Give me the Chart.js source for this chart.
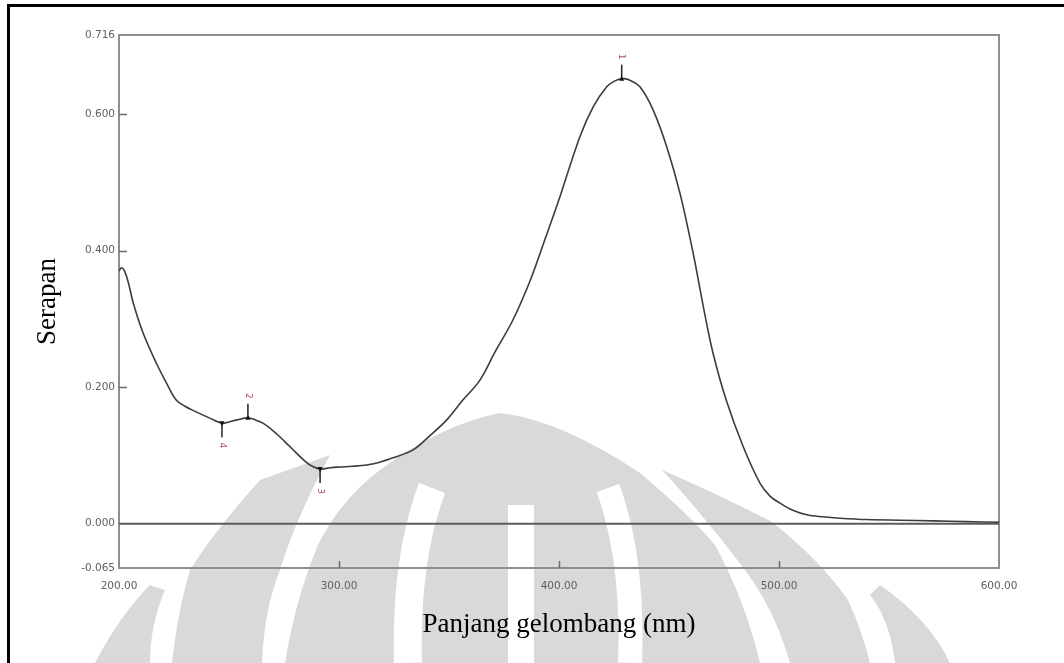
<!DOCTYPE html>
<html>
<head>
<meta charset="utf-8">
<script src="https://cdn.jsdelivr.net/npm/chart.js@4.4.1/dist/chart.umd.min.js"></script>
<style>
  html, body { margin: 0; padding: 0; background: #fff; }
  #wrap { position: relative; width: 1064px; height: 663px; overflow: hidden; background: #fff; }
  #frame { position: absolute; left: 7px; top: 4px; width: 1070px; height: 670px;
           border-top: 3px solid #000; border-left: 3px solid #000; pointer-events: none; }
  #wm { position: absolute; left: 0; top: 0; }
  canvas { position: absolute; left: 0; top: 0; }
</style>
</head>
<body>
<div id="wrap">
  <svg id="wm" width="1064" height="663" viewBox="0 0 1064 663">
    <g fill="#d9d9d9">
      <path d="M500,413 Q560,420 640,473 Q690,515 715,545 Q745,600 760,663 L285,663 Q295,600 318,545 Q340,500 380,470 Q440,425 500,413 Z"/>
      <path d="M330,455 L260,480 Q215,530 190,570 Q178,610 172,663 L262,663 Q264,610 280,570 Q295,520 330,455 Z"/>
      <path d="M662,470 Q720,495 772,522 Q820,560 848,600 Q862,630 870,663 L790,663 Q775,610 745,570 Q715,530 680,490 Z"/>
      <path d="M150,585 L165,590 Q150,625 150,663 L95,663 Q120,615 150,585 Z"/>
      <path d="M880,585 Q930,620 950,663 L895,663 Q890,620 870,595 Z"/>
    </g>
    <g fill="none" stroke="#ffffff">
      <path d="M432,488 Q405,560 408,663" stroke-width="28"/>
      <path d="M608,488 Q634,560 630,663" stroke-width="24"/>
      <path d="M521,505 L521,663" stroke-width="26"/>
    </g>
  </svg>
  <canvas id="c" width="1064" height="663"></canvas>
  <div id="frame"></div>
</div>
<script>
// ---- data ----
const wavelength = [200, 201.2, 202.7, 204.5, 206.5, 211, 217, 221.6, 226, 230, 233.6, 241, 246.8, 250, 253.5, 258.6, 262, 265.6, 269, 273.2, 277, 280.8, 284, 286.8, 291.4, 296, 300.5, 306, 312.6, 318.6, 325, 333.7, 341, 349, 356, 364, 371, 379, 387, 394, 400, 409.5, 415.6, 421.7, 425, 428.5, 432, 436.8, 442.8, 449, 455, 461, 465.6, 470, 476, 483.7, 491.4, 496, 500.5, 506, 512.6, 520, 527.7, 540, 555, 570, 585, 600];
const absorbance = [0.370, 0.375, 0.369, 0.350, 0.323, 0.279, 0.235, 0.206, 0.181, 0.172, 0.166, 0.155, 0.147, 0.149, 0.152, 0.155, 0.152, 0.147, 0.139, 0.127, 0.115, 0.103, 0.093, 0.086, 0.080, 0.082, 0.083, 0.084, 0.086, 0.090, 0.097, 0.108, 0.128, 0.152, 0.180, 0.210, 0.252, 0.298, 0.357, 0.420, 0.475, 0.567, 0.611, 0.640, 0.648, 0.652, 0.650, 0.640, 0.606, 0.552, 0.484, 0.396, 0.318, 0.250, 0.181, 0.113, 0.059, 0.040, 0.030, 0.020, 0.013, 0.010, 0.008, 0.006, 0.005, 0.004, 0.003, 0.002];
const baselineX = [200, 600];
const baselineY = [0, 0];
const xTicks = [200, 300, 400, 500, 600];
const yTicks = [-0.065, 0.000, 0.200, 0.400, 0.600, 0.716];
const xTickMarks = [300, 400, 500];
const yTickMarks = [0.200, 0.400, 0.600];
const markerLabels = ['1', '2', '3', '4'];
const markerX = [428.5, 258.6, 291.4, 246.8];
const markerY = [0.652, 0.155, 0.080, 0.147];
const markerKind = ['peak', 'peak', 'valley', 'valley'];
const xTitle = 'Panjang gelombang (nm)';
const yTitle = 'Serapan';

const deco = {
  id: 'deco',
  beforeDatasetsDraw(chart) {
    const { ctx, chartArea: a, scales: { x, y } } = chart;
    ctx.save();
    ctx.strokeStyle = '#8e8e8e';
    ctx.lineWidth = 2;
    ctx.strokeRect(a.left, a.top, a.right - a.left, a.bottom - a.top);
    ctx.strokeStyle = '#6a6a6a';
    ctx.lineWidth = 1.5;
    yTickMarks.forEach(v => {
      const p = Math.round(y.getPixelForValue(v)) + 0.5;
      ctx.beginPath(); ctx.moveTo(a.left, p); ctx.lineTo(a.left + 8, p); ctx.stroke();
    });
    xTickMarks.forEach(v => {
      const p = Math.round(x.getPixelForValue(v)) + 0.5;
      ctx.beginPath(); ctx.moveTo(p, a.bottom); ctx.lineTo(p, a.bottom - 7); ctx.stroke();
    });
    ctx.restore();
  },
  afterDatasetsDraw(chart) {
    const { ctx, scales: { x, y } } = chart;
    ctx.save();
    markerLabels.forEach((lab, i) => {
      const px = x.getPixelForValue(markerX[i]);
      const py = y.getPixelForValue(markerY[i]);
      const s = markerKind[i] === 'peak' ? -1 : 1;
      const y0 = py + s * 14, y1 = py + s * 3;
      ctx.strokeStyle = '#222';
      ctx.lineWidth = 1.5;
      ctx.beginPath(); ctx.moveTo(px, y0); ctx.lineTo(px, y1 - s * 3); ctx.stroke();
      ctx.fillStyle = '#111';
      ctx.beginPath();
      ctx.moveTo(px, y1); ctx.lineTo(px - 2.5, y1 - s * 5); ctx.lineTo(px + 2.5, y1 - s * 5);
      ctx.closePath(); ctx.fill();
      ctx.save();
      ctx.translate(px, py + s * 22);
      ctx.rotate(Math.PI / 2);
      ctx.fillStyle = '#b04868';
      ctx.font = '9px "DejaVu Sans"';
      ctx.textAlign = 'center';
      ctx.textBaseline = 'middle';
      ctx.fillText(lab, 0, 0);
      ctx.restore();
    });
    ctx.restore();
  }
};

new Chart(document.getElementById('c'), {
  type: 'scatter',
  data: {
    datasets: [
      {
        data: baselineX.map((v, i) => ({ x: v, y: baselineY[i] })),
        showLine: true, borderColor: '#5c5c5c', borderWidth: 2, pointRadius: 0, order: 2
      },
      {
        data: wavelength.map((v, i) => ({ x: v, y: absorbance[i] })),
        showLine: true, borderColor: '#3c3c3c', borderWidth: 1.6, pointRadius: 0,
        tension: 0.35, order: 1
      }
    ]
  },
  options: {
    responsive: false,
    animation: false,
    events: [],
    layout: { padding: { left: 8, top: 35, right: 65, bottom: 0 } },
    plugins: { legend: { display: false }, tooltip: { enabled: false } },
    scales: {
      x: {
        type: 'linear', min: 200, max: 600,
        afterBuildTicks: s => { s.ticks = xTicks.map(v => ({ value: v })); },
        afterFit: s => { s.height = 95; },
        grid: { display: false, drawTicks: false },
        border: { display: false },
        ticks: {
          padding: 12, color: '#606060', maxRotation: 0, autoSkip: false,
          font: { family: '"DejaVu Sans"', size: 10.5 },
          callback: v => Number(v).toFixed(2)
        },
        title: {
          display: true, text: xTitle, color: '#000',
          font: { family: '"Liberation Serif"', size: 27 },
          padding: { top: 0, bottom: 22 }
        }
      },
      y: {
        type: 'linear', min: -0.065, max: 0.716,
        afterBuildTicks: s => { s.ticks = yTicks.map(v => ({ value: v })); },
        afterFit: s => { s.width = 111; },
        grid: { display: false, drawTicks: false },
        border: { display: false },
        ticks: {
          padding: 4, color: '#606060', autoSkip: false,
          font: { family: '"DejaVu Sans"', size: 10.5 },
          callback: v => Number(v).toFixed(3)
        },
        title: {
          display: true, text: yTitle, color: '#000',
          font: { family: '"Liberation Serif"', size: 27 },
          padding: { top: 24, bottom: 0 }
        }
      }
    }
  },
  plugins: [deco]
});
</script>
</body>
</html>
